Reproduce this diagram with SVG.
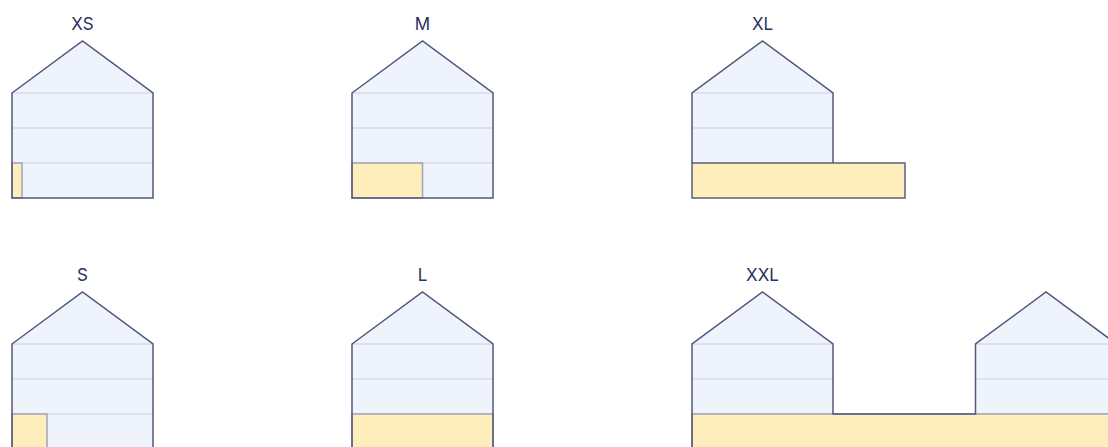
<svg xmlns="http://www.w3.org/2000/svg" width="1108" height="447" viewBox="0 0 1108 447">
<style>
.lbl{font-family:Inter,"Liberation Sans",sans-serif;font-size:17px;fill:#2a3163;text-anchor:middle}
.body{fill:#eff4fc;stroke:none}
.floor{stroke:#d9dde9;stroke-width:1.5;fill:none}
.occ{fill:#feeebb;stroke:#a3a3b3;stroke-width:1.5}
.occd{fill:#feeebb;stroke:#5a5e80;stroke-width:1.5}
.out{fill:none;stroke:#52577c;stroke-width:1.5;stroke-linejoin:miter}
</style>
<rect width="1108" height="447" fill="#ffffff"/>
<defs>
<g id="house">
<polygon class="body" points="0,52 70.5,0 141,52 141,157 0,157"/>
<line class="floor" x1="0" y1="52" x2="141" y2="52"/>
<line class="floor" x1="0" y1="87" x2="141" y2="87"/>
<line class="floor" x1="0" y1="122" x2="141" y2="122"/>
</g>
</defs>
<g id="xs" transform="translate(12,41)">
<text class="lbl" x="70.5" y="-11">XS</text>
<use href="#house"/>
<rect class="occ" x="0" y="122" width="10" height="35"/>
<polygon class="out" points="0,52 70.5,0 141,52 141,157 0,157"/>
</g>
<g id="m" transform="translate(352,41)">
<text class="lbl" x="70.5" y="-11">M</text>
<use href="#house"/>
<rect class="occ" x="0" y="122" width="70.5" height="35"/>
<polygon class="out" points="0,52 70.5,0 141,52 141,157 0,157"/>
</g>
<g id="xl" transform="translate(692,41)">
<text class="lbl" x="70.5" y="-11">XL</text>
<use href="#house"/>
<rect class="occd" x="0" y="122" width="213" height="35"/>
<polyline class="out" points="0,122 0,52 70.5,0 141,52 141,122"/>
</g>
<g id="s" transform="translate(12,292)">
<text class="lbl" x="70.5" y="-11">S</text>
<use href="#house"/>
<rect class="occ" x="0" y="122" width="35" height="35"/>
<polygon class="out" points="0,52 70.5,0 141,52 141,157 0,157"/>
</g>
<g id="l" transform="translate(352,292)">
<text class="lbl" x="70.5" y="-11">L</text>
<use href="#house"/>
<rect class="occ" x="0" y="122" width="141" height="35"/>
<polygon class="out" points="0,52 70.5,0 141,52 141,157 0,157"/>
</g>
<g id="xxl" transform="translate(692,292)">
<text class="lbl" x="70.5" y="-11">XXL</text>
<use href="#house"/>
<use href="#house" x="283.5"/>
<rect class="occ" x="0" y="122" width="430" height="35"/>
<polyline class="out" points="0,157 0,52 70.5,0 141,52 141,122 283.5,122 283.5,52 354,0 424.5,52 424.5,157"/>
</g>
</svg>
